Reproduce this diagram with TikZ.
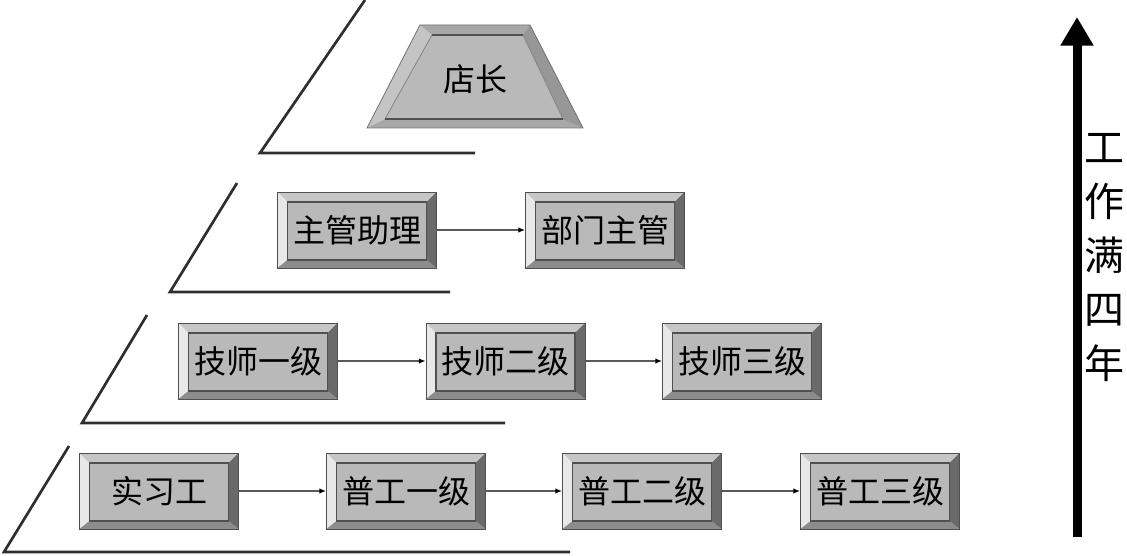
\documentclass[tikz,border=0pt]{standalone}
\usepackage{fontspec}
\newfontfamily\cjk{Noto Sans CJK SC}
\usetikzlibrary{calc,arrows.meta}
\definecolor{bvtop}{HTML}{C6C6C6}
\definecolor{bvleft}{HTML}{E8E8E8}
\definecolor{bvright}{HTML}{6A6A6A}
\definecolor{bvbot}{HTML}{8C8C8C}
\definecolor{bvin}{HTML}{B9B9B9}
\definecolor{bvedge}{HTML}{505050}
\definecolor{trout}{HTML}{A8A8A8}
\definecolor{trleft}{HTML}{C4C4C4}
\definecolor{trright}{HTML}{979797}
\definecolor{layerline}{HTML}{2E2E2E}
\tikzset{
  btn/.style={minimum width=119.25pt, minimum height=57pt, inner sep=0pt,
    draw=bvedge, line width=0.6pt, fill=bvin,
    font=\cjk\fontsize{24}{24}\selectfont,
    path picture={
      \coordinate (ppa) at (path picture bounding box.north west);
      \coordinate (ppb) at (path picture bounding box.north east);
      \coordinate (ppc) at (path picture bounding box.south east);
      \coordinate (ppd) at (path picture bounding box.south west);
      \coordinate (ppA) at ($(ppa)+(7.5pt,-7.5pt)$);
      \coordinate (ppB) at ($(ppb)+(-7.5pt,-7.5pt)$);
      \coordinate (ppC) at ($(ppc)+(-7.5pt,6pt)$);
      \coordinate (ppD) at ($(ppd)+(7.5pt,6pt)$);
      \fill[bvtop] (ppa) -- (ppb) -- (ppB) -- (ppA) -- cycle;
      \fill[bvleft] (ppa) -- (ppA) -- (ppD) -- (ppd) -- cycle;
      \fill[bvright] (ppb) -- (ppc) -- (ppC) -- (ppB) -- cycle;
      \fill[bvbot] (ppd) -- (ppD) -- (ppC) -- (ppc) -- cycle;
      \draw[bvedge, line width=0.8pt, fill=bvin] (ppA) rectangle (ppC);
    }},
  layer/.style={draw=layerline, line width=2pt, line join=miter},
  conn/.style={draw=gray!70!black, line width=1pt, -{Latex[length=5pt,width=4pt,black]}},
  bigarrow/.style={draw=black, line width=6.75pt, -{Triangle[width=23.5pt,length=21.5pt]}},
}
\begin{document}
\begin{tikzpicture}[x=0.75pt,y=-0.75pt]
\useasboundingbox (0,0) rectangle (1127,556);
% layer lines
\draw[layer] (365,0) -- (260,153) -- (475,153);
\draw[layer] (237,183) -- (170,292) -- (450,292);
\draw[layer] (147,315) -- (82,423) -- (505,423);
\draw[layer] (69,446) -- (4,552) -- (570,552);
% top trapezoid
\fill[trout] (420,25) -- (530,25) -- (583,128) -- (367,128) -- cycle;
\fill[trleft] (420,25) -- (432,35) -- (385,119) -- (367,128) -- cycle;
\fill[trright] (530,25) -- (583,128) -- (563,119) -- (523,35) -- cycle;
\draw[bvedge!80, line width=0.6pt] (420,25) -- (530,25) -- (583,128) -- (367,128) -- cycle;
\fill[bvin] (432,35) -- (523,35) -- (563,119) -- (385,119) -- cycle;
\draw[bvedge!70, line width=0.6pt] (523,35) -- (563,119) (385,119) -- (432,35);
\draw[bvedge, line width=1pt] (432,35) -- (523,35) (563,119) -- (385,119);
\node[font=\cjk\fontsize{24}{24}\selectfont] (boss) at (475,79) {店长};
% boxes
\node[btn] (zgzl) at (357,230) {主管助理};
\node[btn] (bmzg) at (605,230) {部门主管};
\node[btn] (js1) at (258,361) {技师一级};
\node[btn] (js2) at (505.5,361) {技师二级};
\node[btn] (js3) at (742,361) {技师三级};
\node[btn] (sxg) at (159,491) {实习工};
\node[btn] (pg1) at (406,491) {普工一级};
\node[btn] (pg2) at (642,491) {普工二级};
\node[btn] (pg3) at (880,491) {普工三级};
% connectors
\draw[conn] (zgzl) -- (bmzg);
\draw[conn] (js1) -- (js2);
\draw[conn] (js2) -- (js3);
\draw[conn] (sxg) -- (pg1);
\draw[conn] (pg1) -- (pg2);
\draw[conn] (pg2) -- (pg3);
% big arrow
\coordinate (abot) at (1077,537);
\coordinate (atop) at (1077,17);
\draw[bigarrow] (abot) -- (atop);
\node[font=\cjk\fontsize{30}{40.5}\selectfont, align=center, inner sep=0pt] (years) at (1104,258) {工\\作\\满\\四\\年};
\end{tikzpicture}
\end{document}
